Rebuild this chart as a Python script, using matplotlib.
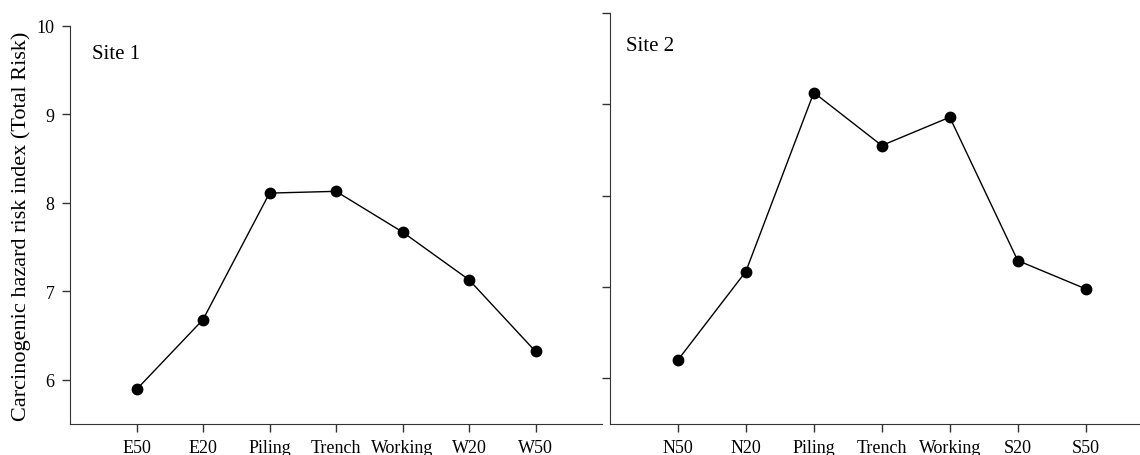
import matplotlib
matplotlib.use("Agg")
import matplotlib.pyplot as plt

plt.rcParams['font.family'] = ['Liberation Serif', 'DejaVu Serif']

# site 1 (east-west transect)
site1_labels = ['E50', 'E20', 'Piling', 'Trench', 'Working', 'W20', 'W50']
site1_risk = [5.89, 6.68, 8.11, 8.13, 7.67, 7.13, 6.32]

# site 2 (north-south transect)
site2_labels = ['N50', 'N20', 'Piling', 'Trench', 'Working', 'S20', 'S50']
site2_risk = [6.20, 7.17, 9.13, 8.55, 8.86, 7.29, 6.98]

fig = plt.figure(figsize=(11.4, 4.56), dpi=100)
ax1 = fig.add_axes([0.0614, 0.068, 0.4667, 0.873])
ax2 = fig.add_axes([0.535, 0.068, 0.477, 0.901])

for ax, labels, vals in [(ax1, site1_labels, site1_risk), (ax2, site2_labels, site2_risk)]:
    x = list(range(1, len(labels) + 1))
    ax.plot(x, vals, color='black', linewidth=1.0, marker='o',
            markersize=7.5, markerfacecolor='black', markeredgecolor='black')
    ax.set_xticks(x)
    ax.set_xticklabels(labels)
    ax.set_xlim(0, 8)
    ax.set_ylim(5.5, 10)
    ax.set_yticks([6, 7, 8, 9, 10])
    for side in ['left', 'bottom']:
        ax.spines[side].set_color('#333333')
    ax.spines['top'].set_visible(False)
    ax.spines['right'].set_visible(False)
    ax.tick_params(direction='out', length=6, width=1, colors='#333333',
                   labelcolor='black', labelsize=13, pad=5)

ax2.set_yticklabels([])

ax1.set_ylabel('Carcinogenic hazard risk index (Total Risk)', fontsize=16, labelpad=4)
ax1.text(0.042, 0.955, 'Site 1', transform=ax1.transAxes, fontsize=15, va='top')
ax2.text(0.03, 0.945, 'Site 2', transform=ax2.transAxes, fontsize=15, va='top')

fig.savefig('out.png', dpi=100)
